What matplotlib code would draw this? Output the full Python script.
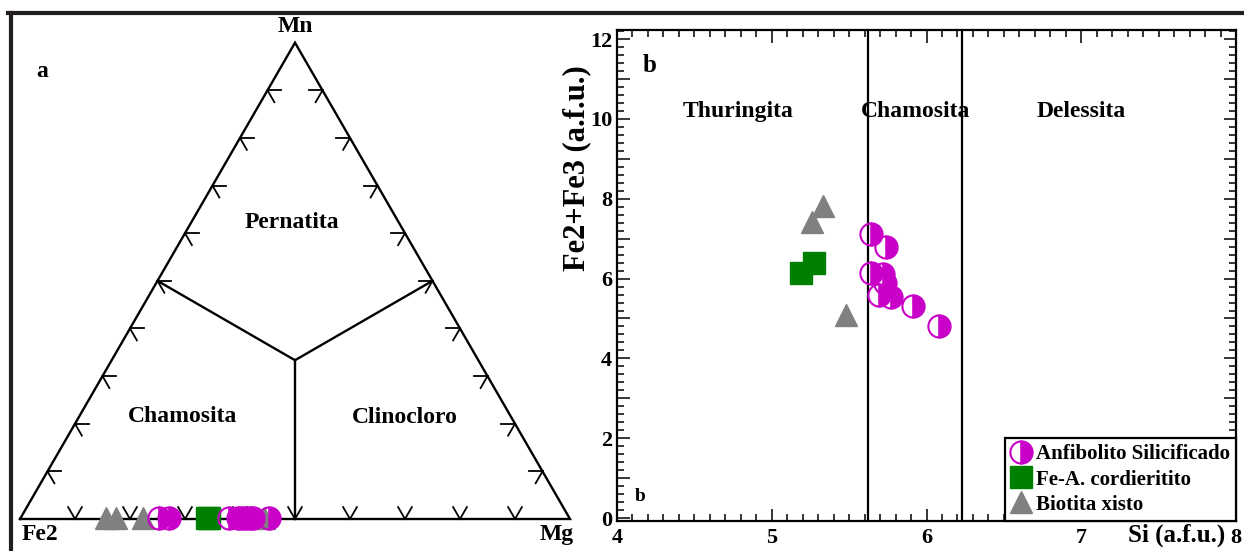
import matplotlib
matplotlib.use('Agg')
import matplotlib.pyplot as plt
import numpy as np
from matplotlib.ticker import MultipleLocator, FuncFormatter
from matplotlib.lines import Line2D

plt.rcParams['font.family'] = ['Liberation Serif', 'DejaVu Serif']
plt.rcParams['font.weight'] = 'bold'

# ---------------- data ----------------
# Panel a : ternary Fe2 - Mg - Mn (fractions)
tern_anf_fe2 = [0.745, 0.727, 0.619, 0.602, 0.595, 0.588, 0.581, 0.574, 0.545]
tern_anf_mg = [0.252, 0.270, 0.378, 0.395, 0.402, 0.409, 0.416, 0.423, 0.452]
tern_anf_mn = [0.003, 0.003, 0.003, 0.003, 0.003, 0.003, 0.003, 0.003, 0.003]

tern_cord_fe2 = [0.659, 0.655]
tern_cord_mg = [0.338, 0.342]
tern_cord_mn = [0.003, 0.003]

tern_bio_fe2 = [0.842, 0.824, 0.775, 0.555]
tern_bio_mg = [0.155, 0.173, 0.222, 0.442]
tern_bio_mn = [0.003, 0.003, 0.003, 0.003]

# Panel b : Si vs Fe2+Fe3 (a.f.u.)
anf_si = [5.64, 5.74, 5.64, 5.72, 5.73, 5.69, 5.77, 5.91, 6.08]
anf_fe = [7.12, 6.78, 6.15, 6.12, 5.90, 5.60, 5.55, 5.32, 4.80]

cord_si = [5.19, 5.27]
cord_fe = [6.15, 6.38]

bio_si = [5.26, 5.33, 5.48]
bio_fe = [7.42, 7.83, 5.08]

field_bounds = [5.62, 6.23]
field_names = ['Thuringita', 'Chamosita', 'Delessita']
legend_labels = ['Anfibolito Silicificado', 'Fe-A. cordieritito', 'Biotita xisto']

MAG = '#c800c8'
GRN = '#008000'
GRY = '#808080'

W, H = 1244, 551
fig = plt.figure(figsize=(W / 100, H / 100), dpi=100)

# ---------------- panel a (ternary) ----------------
axt = fig.add_axes([0, 0, 600 / W, 1])
axt.set_xlim(-20 / 550, 580 / 550)
axt.set_ylim(-32 / 550, 519 / 550)
axt.axis('off')
S3 = np.sqrt(3) / 2


def tern_xy(fe2, mg, mn):
    fe2, mg, mn = map(np.asarray, (fe2, mg, mn))
    tot = fe2 + mg + mn
    return (mg + mn / 2) / tot, (mn * S3) / tot


lw = 1.7
axt.plot([0, 1, 0.5, 0], [0, 0, S3, 0], color='black', lw=lw, solid_joinstyle='miter', zorder=2)
cx, cy = 0.5, S3 / 3
for mx, my in [(0.25, S3 / 2), (0.75, S3 / 2), (0.5, 0)]:
    axt.plot([cx, mx], [cy, my], color='black', lw=lw, zorder=2)


def chevron(x, y, ang, L=0.025):
    for a in (ang - 30, ang + 30):
        r = np.deg2rad(a)
        axt.plot([x, x + L * np.cos(r)], [y, y + L * np.sin(r)], color='black', lw=1.3, zorder=2)


for t in np.arange(1, 10) / 10:
    chevron(t, 0, 90)
    chevron(t * 0.5, t * S3, -30)
    chevron(1 - t * 0.5, t * S3, 210)

x, y = tern_xy(tern_bio_fe2, tern_bio_mg, tern_bio_mn)
axt.plot(x, y, '^', ms=16, color=GRY, mec=GRY, ls='none', zorder=3)
x, y = tern_xy(tern_cord_fe2, tern_cord_mg, tern_cord_mn)
axt.plot(x, y, 's', ms=16, color=GRN, mec=GRN, ls='none', zorder=4)
x, y = tern_xy(tern_anf_fe2, tern_anf_mg, tern_anf_mn)
axt.plot(x, y, 'o', ms=16, fillstyle='right', mfc=MAG, mfcalt='none', mec=MAG, mew=1.5,
         ls='none', zorder=5)

tk = dict(fontsize=17, fontweight='bold', ha='center', va='center')
axt.text(0.5, 0.895, 'Mn', **tk)
axt.text(0.036, -0.029, 'Fe2', **tk)
axt.text(0.976, -0.029, 'Mg', **tk)
axt.text(0.04, 0.813, 'a', **tk)
axt.text(0.4945, 0.54, 'Pernatita', **tk)
axt.text(0.296, 0.187, 'Chamosita', **tk)
axt.text(0.70, 0.184, 'Clinocloro', **tk)

# ---------------- panel b ----------------
ax = fig.add_axes([617 / W, 30 / H, 619 / W, 491 / H])
ax.set_xlim(4, 8)
ax.set_ylim(-0.075, 12.23)
for b in field_bounds:
    ax.axvline(b, color='black', lw=1.6, zorder=1)

ax.plot(bio_si, bio_fe, '^', ms=16, color=GRY, mec=GRY, ls='none', label=legend_labels[2], zorder=3)
ax.plot(cord_si, cord_fe, 's', ms=16, color=GRN, mec=GRN, ls='none', label=legend_labels[1], zorder=3)
ax.plot(anf_si, anf_fe, 'o', ms=16, fillstyle='right', mfc=MAG, mfcalt='none', mec=MAG, mew=1.5,
        ls='none', label=legend_labels[0], zorder=4)

fy = 10.18
for nm, xx in zip(field_names, [4.78, 5.93, 7.0]):
    ax.text(xx, fy, nm, fontsize=17, fontweight='bold', ha='center', va='center')
ax.text(4.21, 11.33, 'b', fontsize=18, fontweight='bold', ha='center', va='center')
ax.text(4.15, 0.53, 'b', fontsize=14, fontweight='bold', ha='center', va='center')

ax.xaxis.set_major_locator(MultipleLocator(1))
ax.xaxis.set_minor_locator(MultipleLocator(0.1))
ax.yaxis.set_major_locator(MultipleLocator(1))
ax.yaxis.set_minor_locator(MultipleLocator(0.2))
ax.yaxis.set_major_formatter(FuncFormatter(lambda v, p: f"{int(round(v))}" if int(round(v)) % 2 == 0 else ""))
ax.xaxis.set_major_formatter(FuncFormatter(lambda v, p: f"{int(round(v))}"))
ax.tick_params(which='both', direction='in', top=True, right=True, width=1.1, labelsize=16)
ax.tick_params(which='major', length=9)
ax.tick_params(which='minor', length=5)
ax.tick_params(axis='x', pad=5)
ax.tick_params(axis='y', pad=3.5)
for sp in ax.spines.values():
    sp.set_linewidth(1.6)

h, l = ax.get_legend_handles_labels()
order = [2, 1, 0]
leg = ax.legend([h[i] for i in order], [l[i] for i in order], loc='lower right', bbox_to_anchor=(1, 0),
                borderaxespad=0, fancybox=False, frameon=True, edgecolor='black', fontsize=15,
                handlelength=1.0, handletextpad=0.2, labelspacing=0.25, borderpad=0.3, markerscale=1.0)
leg.get_frame().set_linewidth(1.6)
leg.get_frame().set_alpha(1)
leg.set_zorder(10)

fig.text(577 / W, 1 - 168 / H, 'Fe2+Fe3 (a.f.u.)', rotation=90, fontsize=22, fontweight='bold',
         ha='center', va='center')
fig.text(1225 / W, 1 - 535 / H, 'Si (a.f.u.)', fontsize=18, fontweight='bold', ha='right', va='center')

# outer frame lines
fig.add_artist(Line2D([8 / W, 1], [1 - 13 / H, 1 - 13 / H], color='#231f20', lw=3, transform=fig.transFigure))
fig.add_artist(Line2D([10.5 / W, 10.5 / W], [0, 1 - 13 / H], color='#231f20', lw=3, transform=fig.transFigure))

fig.savefig('out.png', dpi=100, facecolor='white')
